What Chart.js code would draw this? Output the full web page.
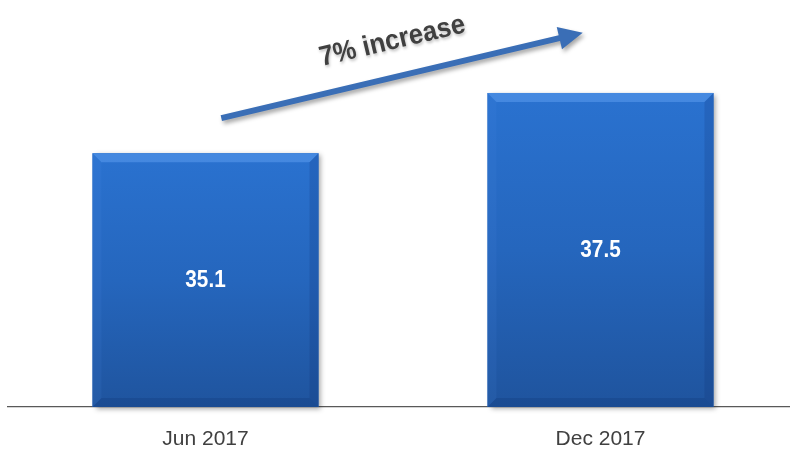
<!DOCTYPE html>
<html>
<head>
<meta charset="utf-8">
<script src="https://cdn.jsdelivr.net/npm/chart.js@4/dist/chart.umd.min.js"></script>
<style>
  html, body { margin: 0; padding: 0; background: #fff; overflow: hidden; }
  #wrap { width: 798px; height: 451px; position: relative; }
</style>
</head>
<body>
<div id="wrap"><canvas id="growth"></canvas></div>
<script>
// periods and headcount values
const periods = ['Jun 2017', 'Dec 2017'];
const values = [35.1, 37.5];
const yRange = [25, 41.2];

// trend arrow, given as [category position, value]
const arrowFrom = [0.04, 36.5];
const arrowTo = [0.955, 39.9];
const arrowText = '7% increase';
const arrowTextAt = [0.473, 39.55];

const bevelBars = {
  id: 'bevelBars',
  beforeDatasetDraw(chart) {
    const c = chart.ctx;
    c.save();
    c.shadowColor = 'rgba(0,0,0,0.35)';
    c.shadowBlur = 5;
    c.shadowOffsetX = 3;
    c.shadowOffsetY = 2;
  },
  afterDatasetDraw(chart) {
    const c = chart.ctx;
    c.restore();
    const meta = chart.getDatasetMeta(0);
    meta.data.forEach((bar, i) => {
      const l = bar.x - bar.width / 2, r = bar.x + bar.width / 2;
      const t = bar.y, b = bar.base, bv = 9;
      c.save();
      const g = c.createLinearGradient(0, t, 0, b);
      g.addColorStop(0, '#2a72d0');
      g.addColorStop(0.5, '#2566bd');
      g.addColorStop(1, '#1f549e');
      c.fillStyle = g;
      c.fillRect(l, t, r - l, b - t);
      const poly = (pts, fill) => {
        c.beginPath();
        c.moveTo(pts[0][0], pts[0][1]);
        pts.slice(1).forEach(p => c.lineTo(p[0], p[1]));
        c.closePath();
        c.fillStyle = fill;
        c.fill();
      };
      poly([[l, t], [r, t], [r - bv, t + bv], [l + bv, t + bv]], 'rgba(120,180,255,0.35)');
      poly([[l, t], [l + bv, t + bv], [l + bv, b - bv], [l, b]], 'rgba(90,150,240,0.1)');
      poly([[r, t], [r, b], [r - bv, b - bv], [r - bv, t + bv]], 'rgba(10,40,100,0.16)');
      poly([[l, b], [l + bv, b - bv], [r - bv, b - bv], [r, b]], 'rgba(10,40,100,0.2)');
      // value label, slightly condensed
      c.translate(bar.x, (t + b) / 2 + 1);
      c.scale(0.9, 1);
      c.fillStyle = '#ffffff';
      c.font = 'bold 23px "Liberation Sans", Arial, sans-serif';
      c.textAlign = 'center';
      c.textBaseline = 'middle';
      c.fillText(values[i].toFixed(1), 0, 0);
      c.restore();
    });
  }
};

const trendArrow = {
  id: 'trendArrow',
  afterDraw(chart) {
    const c = chart.ctx;
    const xs = chart.scales.x, ys = chart.scales.y;
    const x0 = xs.getPixelForValue(arrowFrom[0]), y0 = ys.getPixelForValue(arrowFrom[1]);
    const x1 = xs.getPixelForValue(arrowTo[0]), y1 = ys.getPixelForValue(arrowTo[1]);
    const ang = Math.atan2(y1 - y0, x1 - x0);
    const len = Math.hypot(x1 - x0, y1 - y0);
    const shaft = 3, headLen = 24, headHalf = 11.5;
    c.save();
    c.translate(x0, y0);
    c.rotate(ang);
    c.shadowColor = 'rgba(0,0,0,0.35)';
    c.shadowBlur = 4;
    c.shadowOffsetX = 2;
    c.shadowOffsetY = 3;
    c.beginPath();
    c.moveTo(0, -shaft);
    c.lineTo(len - headLen, -shaft);
    c.lineTo(len - headLen, -headHalf);
    c.lineTo(len, 0);
    c.lineTo(len - headLen, headHalf);
    c.lineTo(len - headLen, shaft);
    c.lineTo(0, shaft);
    c.closePath();
    c.fillStyle = '#3a6eb6';
    c.fill();
    c.restore();

    const tx = xs.getPixelForValue(arrowTextAt[0]), ty = ys.getPixelForValue(arrowTextAt[1]);
    c.save();
    c.translate(tx, ty);
    c.rotate(ang);
    c.scale(0.92, 1);
    c.font = 'bold 28px "Liberation Sans", Arial, sans-serif';
    c.textAlign = 'center';
    c.textBaseline = 'middle';
    c.shadowColor = 'rgba(0,0,0,0.25)';
    c.shadowBlur = 3;
    c.shadowOffsetX = 1;
    c.shadowOffsetY = 2;
    c.fillStyle = '#404040';
    c.fillText(arrowText, 0, 0);
    c.restore();
  }
};

new Chart(document.getElementById('growth'), {
  type: 'bar',
  data: {
    labels: periods,
    datasets: [{
      data: values,
      base: yRange[0],
      backgroundColor: '#2566bd',
      borderWidth: 0,
      barPercentage: 0.572,
      categoryPercentage: 1,
      clip: false
    }]
  },
  options: {
    responsive: true,
    maintainAspectRatio: false,
    animation: false,
    layout: { padding: { left: 8, right: 0, top: 0, bottom: 0 } },
    plugins: { legend: { display: false }, tooltip: { enabled: false } },
    scales: {
      x: {
        grid: { display: false },
        border: { display: true, color: '#595959', width: 1.3 },
        ticks: { color: '#404040', padding: 12, font: { family: '"Liberation Sans", Arial, sans-serif', size: 21 } },
        afterFit(scale) { scale.height = 44; }
      },
      y: { display: false, beginAtZero: false, min: yRange[0], max: yRange[1] }
    }
  },
  plugins: [bevelBars, trendArrow]
});
</script>
</body>
</html>
